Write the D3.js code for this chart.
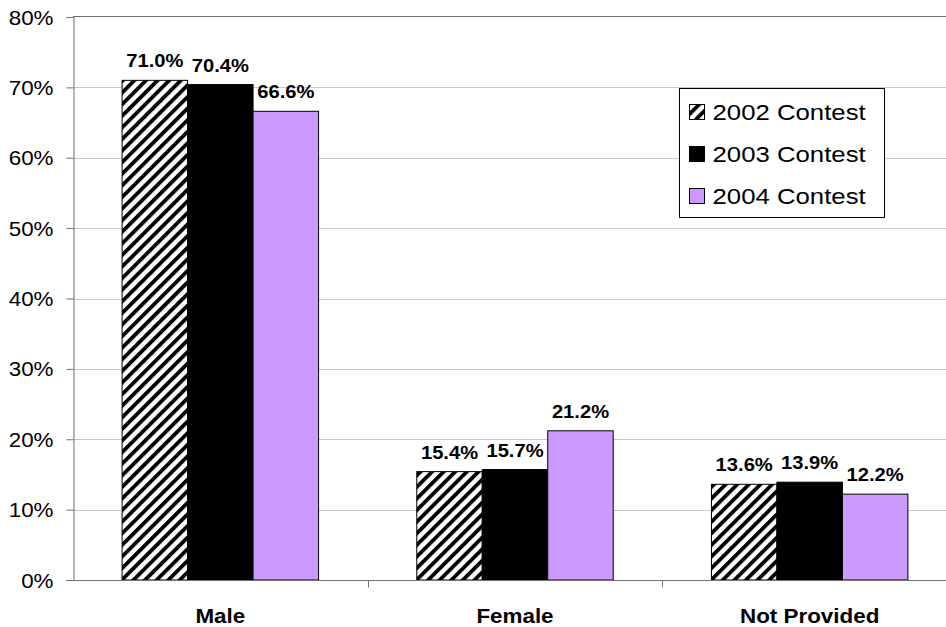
<!DOCTYPE html>
<html>
<head>
<meta charset="utf-8">
<script src="https://cdn.jsdelivr.net/npm/d3@7"></script>
<style>
  body { margin: 0; background: #fff; }
  svg { display: block; font-family: "Liberation Sans", Arial, sans-serif; }
</style>
</head>
<body>
<div id="chart"></div>
<script>
// data
var categories = ["Male", "Female", "Not Provided"];
var series = ["2002 Contest", "2003 Contest", "2004 Contest"];
var values2002 = [71.0, 15.4, 13.6];
var values2003 = [70.4, 15.7, 13.9];
var values2004 = [66.6, 21.2, 12.2];
var yTicks = [0, 10, 20, 30, 40, 50, 60, 70, 80];

var seriesValues = [values2002, values2003, values2004];
var fills = ["url(#hatch)", "#000000", "#cc99ff"];

var width = 946, height = 627;
var mLeft = 73, mTop = 17, mBottom = 580, mRight = 957;
var stretch = 1.12; // the reference text is a bit wider than plain Arial

function place(x, y) { return "translate(" + x + "," + y + ") scale(" + stretch + ",1)"; }

var svg = d3.select("#chart").append("svg")
    .attr("width", width)
    .attr("height", height);

// diagonal hatch for 2002
var defs = svg.append("defs");
var pat = defs.append("pattern")
    .attr("id", "hatch")
    .attr("patternUnits", "userSpaceOnUse")
    .attr("width", 8.2).attr("height", 8.2)
    .attr("patternTransform", "rotate(45)");
pat.append("rect").attr("width", 8.2).attr("height", 8.2).attr("fill", "#fff");
pat.append("rect").attr("x", 0).attr("width", 3.8).attr("height", 8.2).attr("fill", "#000");

var x0 = d3.scaleBand().domain(categories).range([mLeft, mRight]);
var x1 = d3.scaleBand().domain(series).range([0, x0.bandwidth()]).paddingOuter(0.75);
var y = d3.scaleLinear().domain([0, 80]).range([mBottom, mTop]);

// gridlines
svg.append("g").selectAll("line")
  .data(yTicks.filter(function(d) { return d > 0 && d < 80; }))
  .enter().append("line")
    .attr("x1", mLeft).attr("x2", width)
    .attr("y1", function(d) { return Math.round(y(d)) + 0.5; })
    .attr("y2", function(d) { return Math.round(y(d)) + 0.5; })
    .attr("stroke", "#c8c8c8");

// top frame line
svg.append("line")
    .attr("x1", mLeft).attr("x2", width)
    .attr("y1", Math.round(y(80)) - 0.5).attr("y2", Math.round(y(80)) - 0.5)
    .attr("stroke", "#707070");

// bars
var groups = svg.append("g").selectAll("g")
  .data(categories)
  .enter().append("g")
    .attr("transform", function(d) { return "translate(" + x0(d) + ",0)"; });

function cells(c, ci) {
  return series.map(function(s, si) { return {s: s, si: si, v: seriesValues[si][ci]}; });
}

groups.selectAll("rect")
  .data(cells)
  .enter().append("rect")
    .attr("x", function(d) { return x1(d.s); })
    .attr("y", function(d) { return y(d.v); })
    .attr("width", x1.bandwidth())
    .attr("height", function(d) { return mBottom - y(d.v); })
    .attr("fill", function(d) { return fills[d.si]; })
    .attr("stroke", "#000")
    .attr("stroke-width", 1);

groups.selectAll("text")
  .data(cells)
  .enter().append("text")
    .attr("transform", function(d) { return place(x1(d.s) + x1.bandwidth() / 2, y(d.v) - 13); })
    .attr("text-anchor", "middle")
    .attr("font-size", "18px")
    .attr("font-weight", "bold")
    .text(function(d) { return d.v.toFixed(1) + "%"; });

// y axis
var yAxis = svg.append("g")
    .attr("transform", "translate(" + (mLeft + 0.5) + ",0)")
    .call(d3.axisLeft(y).tickValues(yTicks).tickSize(7)
      .tickFormat(function(d) { return d + "%"; }));
yAxis.select(".domain").attr("stroke", "#707070");
yAxis.selectAll(".tick line").attr("stroke", "#707070");
yAxis.selectAll(".tick text")
    .attr("x", null).attr("dy", null)
    .attr("transform", place(-20, 7))
    .attr("font-family", "Liberation Sans, Arial, sans-serif")
    .attr("font-size", "20px")
    .attr("fill", "#000");

// x axis
var xAxis = svg.append("g")
    .attr("transform", "translate(0," + (mBottom + 0.5) + ")");
xAxis.append("line")
    .attr("x1", mLeft - 7).attr("x2", width)
    .attr("stroke", "#707070");
xAxis.selectAll(".sep")
  .data(categories.slice(1))
  .enter().append("line")
    .attr("class", "sep")
    .attr("x1", function(d) { return Math.round(x0(d)) + 0.5; })
    .attr("x2", function(d) { return Math.round(x0(d)) + 0.5; })
    .attr("y1", 0).attr("y2", 7)
    .attr("stroke", "#707070");
xAxis.selectAll("text")
  .data(categories)
  .enter().append("text")
    .attr("transform", function(d) { return place(x0(d) + x0.bandwidth() / 2, 42); })
    .attr("text-anchor", "middle")
    .attr("font-size", "20px")
    .attr("font-weight", "bold")
    .text(function(d) { return d; });

// legend
var legend = svg.append("g").attr("transform", "translate(679.5,88.5)");
legend.append("rect")
    .attr("width", 205).attr("height", 129)
    .attr("fill", "#fff")
    .attr("stroke", "#000");
var items = legend.selectAll(".item")
  .data(series)
  .enter().append("g")
    .attr("class", "item")
    .attr("transform", function(d, i) { return "translate(10," + (23 + i * 42) + ")"; });
items.append("rect")
    .attr("y", -7).attr("width", 15).attr("height", 15)
    .attr("fill", function(d, i) { return fills[i]; })
    .attr("stroke", "#000");
items.append("text")
    .attr("transform", place(23, 8))
    .attr("font-size", "23px")
    .text(function(d) { return d; });
</script>
</body>
</html>
